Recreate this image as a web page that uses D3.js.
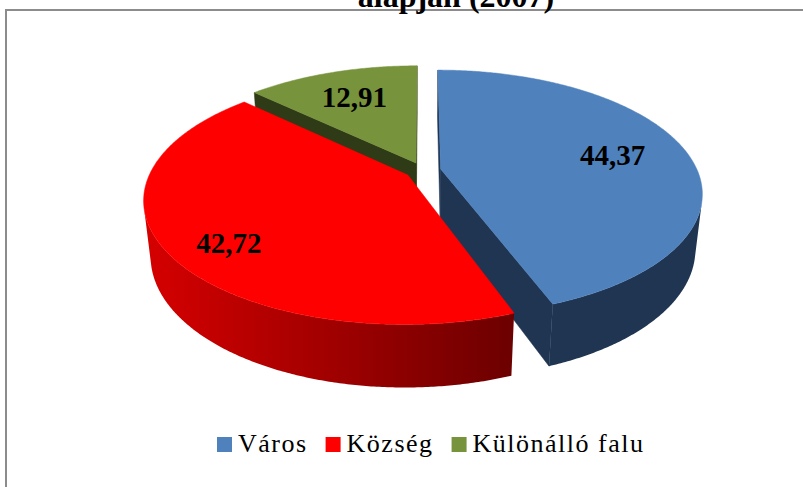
<!DOCTYPE html>
<html>
<head>
<meta charset="utf-8">
<script src="https://cdn.jsdelivr.net/npm/d3@7"></script>
<style>
  body { margin: 0; background: #fff; }
  svg { display: block; }
  text { font-family: "Liberation Serif", "Times New Roman", serif; }
</style>
</head>
<body>
<svg id="vis" width="803" height="487"></svg>
<script>
// data
const categories = ["Város", "Község", "Különálló falu"];
const values = [44.37, 42.72, 12.91];
const valueLabels = ["44,37", "42,72", "12,91"];
const titleText = "alapján (2007)";

// styles
const topColors = ["#4f81bd", "#ff0000", "#77933c"];
const sideShades = [["#1f3552", "#1f3552"], ["#d60000", "#6c0000"], ["#2f3a16", "#2f3a16"]];
const labelRadius = [0.7, 0.8, 0.7];
const labelTurn = [0, -6, 0]; // degrees

let vis = d3.select('#vis');

// simple perspective camera looking down on the pie
const cam = { cx: 423, cy: 170.5, f: 1136, D: 4.6, phi: 27.5 * Math.PI / 180, h: 0.245, explode: 0.07 };
const sinP = Math.sin(cam.phi), cosP = Math.cos(cam.phi);
const camZ = -cam.D * cosP;

const project = (X, Y, Z) => {
  const depth = cam.D - Y * sinP + Z * cosP;
  return [cam.cx + cam.f * X / depth, cam.cy - cam.f * (Y * cosP + Z * sinP) / depth, depth];
};

const line = d3.line().x(d => d[0]).y(d => d[1]);
const poly = pts => line(pts) + 'Z';

// scale the focal length so the pie keeps its width with the new distance
cam.f = 1136 * cam.D / 4.425;

const slices = d3.pie().sort(null).value(d => d)(values).map((s, i) => {
  const mid = (s.startAngle + s.endAngle) / 2;
  const ox = cam.explode * Math.sin(mid), oz = cam.explode * Math.cos(mid);
  const pt = (a, r, Y) => project(ox + r * Math.sin(a), Y, oz + r * Math.cos(a));
  return { i, s: s.startAngle, e: s.endAngle, mid, ox, oz, pt };
});

// background frame
vis.append('rect').attr('width', 803).attr('height', 487).attr('fill', '#fff');
vis.append('rect')
  .attr('x', 6).attr('y', 10).attr('width', 900).attr('height', 600)
  .attr('fill', 'none').attr('stroke', '#8c8c8c').attr('stroke-width', 2);

vis.append('text')
  .attr('x', 456).attr('y', 7)
  .attr('text-anchor', 'middle')
  .attr('font-size', 32).attr('font-weight', 'bold')
  .text(titleText);

// gradients for the outer walls
const defs = vis.append('defs');
sideShades.forEach((c, i) => {
  const g = defs.append('linearGradient').attr('id', 'side' + i);
  g.append('stop').attr('offset', '0%').attr('stop-color', c[0]);
  g.append('stop').attr('offset', '100%').attr('stop-color', c[1]);
});

// collect walls
let walls = [];
const step = Math.PI / 360;
slices.forEach(sl => {
  // outer curved wall, only the parts facing the camera
  let run = [];
  const flush = () => {
    if (run.length > 1) {
      const top = run.map(a => sl.pt(a, 1, 0));
      const bot = run.map(a => sl.pt(a, 1, -cam.h)).reverse();
      const pts = top.concat(bot);
      walls.push({ pts, depth: d3.mean(pts, p => p[2]), fill: 'url(#side' + sl.i + ')' });
    }
    run = [];
  };
  const n = Math.max(2, Math.ceil((sl.e - sl.s) / step));
  for (let k = 0; k <= n; k++) {
    const a = sl.s + (sl.e - sl.s) * k / n;
    const px = sl.ox + Math.sin(a), pz = sl.oz + Math.cos(a);
    const facing = Math.sin(a) * (0 - px) + Math.cos(a) * (camZ - pz) > 0;
    if (facing) run.push(a); else flush();
  }
  flush();

  // radial walls
  [[sl.s, -1], [sl.e, 1]].forEach(([a, sgn]) => {
    const nx = sgn * Math.cos(a), nz = -sgn * Math.sin(a);
    if (nx * (0 - sl.ox) + nz * (camZ - sl.oz) <= 0) return;
    const pts = [sl.pt(a, 0, 0), sl.pt(a, 1, 0), sl.pt(a, 1, -cam.h), sl.pt(a, 0, -cam.h)];
    walls.push({ pts, depth: d3.mean(pts, p => p[2]), fill: sideShades[sl.i][1] });
  });
});

walls.sort((a, b) => b.depth - a.depth);

const pie = vis.append('g');
pie.selectAll('path.wall')
  .data(walls)
  .enter()
  .append('path')
  .attr('class', 'wall')
  .attr('d', d => poly(d.pts))
  .attr('fill', d => d.fill)
  .attr('stroke', d => d.fill.startsWith('url') ? 'none' : d.fill)
  .attr('stroke-width', 0.5);

// top faces
pie.selectAll('path.top')
  .data(slices)
  .enter()
  .append('path')
  .attr('class', 'top')
  .attr('d', sl => {
    const n = Math.ceil((sl.e - sl.s) / step);
    const pts = [sl.pt(0, 0, 0)];
    for (let k = 0; k <= n; k++) pts.push(sl.pt(sl.s + (sl.e - sl.s) * k / n, 1, 0));
    return poly(pts);
  })
  .attr('fill', sl => topColors[sl.i])
  .attr('stroke', sl => topColors[sl.i])
  .attr('stroke-width', 0.5);

// value labels
pie.selectAll('text')
  .data(slices)
  .enter()
  .append('text')
  .attr('x', sl => sl.pt(sl.mid + labelTurn[sl.i] * Math.PI / 180, labelRadius[sl.i], 0)[0])
  .attr('y', sl => sl.pt(sl.mid + labelTurn[sl.i] * Math.PI / 180, labelRadius[sl.i], 0)[1])
  .attr('dy', '0.34em')
  .attr('text-anchor', 'middle')
  .attr('font-size', 29).attr('font-weight', 'bold')
  .text(sl => valueLabels[sl.i]);

// legend
const legend = vis.append('g');
let lx = 217;
categories.forEach((c, i) => {
  legend.append('rect')
    .attr('x', lx).attr('y', 437).attr('width', 15).attr('height', 15)
    .attr('fill', topColors[i]);
  const t = legend.append('text')
    .attr('x', lx + 21).attr('y', 452)
    .attr('font-size', 26).attr('letter-spacing', 1.5)
    .text(c);
  lx += 21 + t.node().getComputedTextLength() + 18;
});
</script>
</body>
</html>
